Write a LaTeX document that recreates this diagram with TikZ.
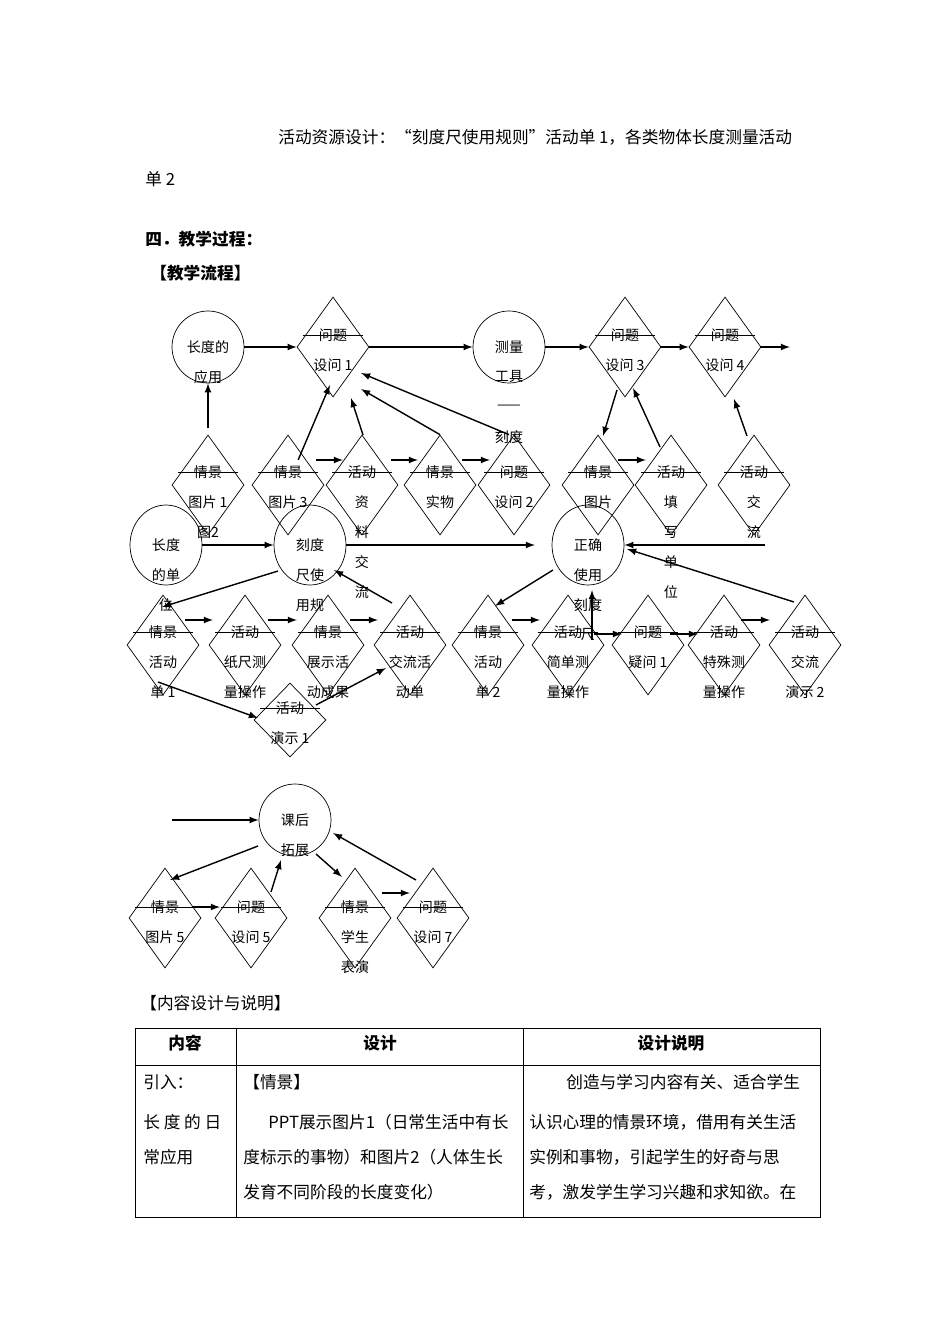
\documentclass[tikz,border=0pt]{standalone}
\usepackage{fontspec}
\setmainfont{Noto Sans CJK SC}
\usetikzlibrary{shapes.geometric}
\tikzset{
  dia/.style={draw, diamond, minimum width=1.44cm, minimum height=2cm, inner sep=0pt},
  diasmall/.style={draw, diamond, minimum width=1.44cm, minimum height=1.48cm, inner sep=0pt},
  circ/.style={draw, ellipse, minimum width=1.44cm, minimum height=1.44cm, inner sep=0pt},
  oval/.style={draw, ellipse, minimum width=1.44cm, minimum height=1.6cm, inner sep=0pt},
  txt/.style={font=\fontsize{8}{8}\selectfont, inner sep=0pt},
  body/.style={font=\fontsize{9.5}{9.5}\selectfont, inner sep=0pt, anchor=west},
  arr/.style={-latex, thick}
}
% diamond: name, x, y, line offset, spacing, lines
\newcommand\dianode[6][dia]{
  \node[#1] (#2) at (#3,#4) {};
  \draw ($(#2.center)+(-30,#5)$) -- ($(#2.center)+(30,#5)$);
  \foreach \t [count=\i] in {#6} \node[txt] at ($(#2.center)+(0,{#5+30*(\i-1)})$) {\t};
}
% circle: style, name, x, y, lines
\newcommand\circnode[5]{
  \node[#1] (#2) at (#3,#4) {};
  \foreach \t [count=\i] in {#5} \node[txt] at ($(#2.center)+(0,{30*(\i-1)})$) {\t};
}
\usetikzlibrary{calc}
\begin{document}
\begin{tikzpicture}[x=0.02cm, y=-0.02cm]
\useasboundingbox (0,0) rectangle (950,1344);
% page text
\node[body] at (278,137) {活动资源设计：“刻度尺使用规则”活动单 1，各类物体长度测量活动};
\node[body] at (145,179) {单 2};
\node[body, font=\fontsize{9.5}{9.5}\selectfont\bfseries] at (145,239) {四．教学过程：};
\node[body, font=\fontsize{9.5}{9.5}\selectfont\bfseries] at (150,273) {【教学流程】};

% row 1
\circnode{circ}{yy}{208}{347}{长度的, 应用}
\dianode{q1}{333}{347}{-12}{问题, 设问 1}
\circnode{circ}{gj}{509}{347}{测量, 工具, ——, 刻度}
\dianode{q3}{625}{347}{-12}{问题, 设问 3}
\dianode{q4}{725}{347}{-12}{问题, 设问 4}
\coordinate (e1) at (790,347);
\draw[arr] (yy) -- (q1);
\draw[arr] (q1) -- (gj);
\draw[arr] (gj) -- (q3);
\draw[arr] (q3) -- (q4);
\draw[arr] (q4) -- (e1);

% row 2
\dianode{tp1}{208}{485}{-13}{情景, 图片 1, 图2}
\dianode{tp3}{288}{485}{-13}{情景, 图片 3}
\dianode{zl}{362}{485}{-13}{活动, 资, 料, 交, 流}
\dianode{sw}{440}{485}{-13}{情景, 实物}
\dianode{q2}{514}{485}{-13}{问题, 设问 2}
\dianode{tp}{598}{485}{-13}{情景, 图片}
\dianode{tx}{671}{485}{-13}{活动, 填, 写, 单, 位}
\dianode{jl}{754}{485}{-13}{活动, 交, 流}
\draw[arr] (208,428) -- (yy);
\draw[arr] (tp3.north east) ++(-8,0) -- (330,385);
\draw[arr] (363,435) -- (351,398);
\draw[arr] (sw.north) -- (361,389);
\draw[arr] (q2.north) ++(-5,0) -- (361,373);
\draw[arr] (316,460) -- (343,460);
\draw[arr] (391,460) -- (418,460);
\draw[arr] (462,460) -- (490,460);
\draw[arr] (618,460) -- (646,460);
\draw[arr] (617,390) -- (603,436);
\draw[arr] (660,447) -- (633,388);
\draw[arr] (747,436) -- (734,399);

% row 3
\circnode{oval}{dw}{166}{545}{长度, 的单, 位}
\circnode{oval}{gz}{310}{545}{刻度, 尺使, 用规}
\circnode{oval}{zq}{588}{545}{正确, 使用, 刻度, 尺}
\coordinate (e2) at (765,545);
\draw[arr] (dw) -- (gz);
\draw[arr] (gz) -- (535,545);
\draw[arr] (e2) -- (zq);

% row 4
\dianode{hd1}{163}{645}{-13}{情景, 活动, 单 1}
\dianode{zc}{245}{645}{-13}{活动, 纸尺测, 量操作}
\dianode{zs}{328}{645}{-13}{情景, 展示活, 动成果}
\dianode{jh}{410}{645}{-13}{活动, 交流活, 动单}
\dianode{hd2}{488}{645}{-13}{情景, 活动, 单 2}
\dianode{jd}{568}{645}{-13}{活动, 简单测, 量操作}
\dianode{yw}{648}{645}{-13}{问题, 疑问 1}
\dianode{ts}{724}{645}{-13}{活动, 特殊测, 量操作}
\dianode{ys2}{805}{645}{-13}{活动, 交流, 演示 2}
\dianode[diasmall]{ys1}{290}{720}{-12}{活动, 演示 1}
\draw[arr] (278,571) -- (162,607);
\draw[arr] (185,620) -- (213,620);
\draw[arr] (268,620) -- (297,620);
\draw[arr] (350,620) -- (378,620);
\draw[arr] (392,603) -- (334,570);
\draw[arr] (158,682) -- (258,718);
\draw[arr] (316,705) -- (386,668);
\draw[arr] (553,570) -- (495,606);
\draw[arr] (512,620) -- (540,620);
\draw[arr] (594,634) -- (622,634);
\draw[arr] (670,634) -- (698,634);
\draw[arr] (741,620) -- (770,620);
\draw[arr] (592,640) -- (592,590);
\draw[arr] (794,602) -- (627,549);

% row 5
\circnode{circ}{kh}{295}{820}{课后, 拓展}
\coordinate (e3) at (172,820);
\dianode{tp5}{165}{918}{-11}{情景, 图片 5}
\dianode{q5}{251}{918}{-11}{问题, 设问 5}
\dianode{by}{355}{918}{-11}{情景, 学生, 表演}
\dianode{q7}{433}{918}{-11}{问题, 设问 7}
\draw[arr] (e3) -- (kh);
\draw[arr] (258,846) -- (170,880);
\draw[arr] (192,907) -- (220,907);
\draw[arr] (271,892) -- (281,860);
\draw[arr] (316,854) -- (342,877);
\draw[arr] (382,893) -- (410,893);
\draw[arr] (416,880) -- (333,833);

% table
\node[body] at (140,1003) {【内容设计与说明】};
\draw (135,1028) rectangle (820,1217);
\draw (135,1065) -- (820,1065);
\draw (236,1028) -- (236,1217);
\draw (523,1028) -- (523,1217);
\node[body, anchor=center, font=\fontsize{9.5}{9.5}\selectfont\bfseries] at (185,1043) {内容};
\node[body, anchor=center, font=\fontsize{9.5}{9.5}\selectfont\bfseries] at (380,1043) {设计};
\node[body, anchor=center, font=\fontsize{9.5}{9.5}\selectfont\bfseries] at (671,1043) {设计说明};
\node[body] at (143,1082) {引入：};
\node[body] at (143,1122) {长 度 的 日};
\node[body] at (143,1157) {常应用};
\node[body] at (243,1082) {【情景】};
\node[body] at (268,1122) {PPT展示图片1（日常生活中有长};
\node[body] at (243,1157) {度标示的事物）和图片2（人体生长};
\node[body] at (243,1192) {发育不同阶段的长度变化）};
\node[body] at (566,1082) {创造与学习内容有关、适合学生};
\node[body] at (529,1122) {认识心理的情景环境，借用有关生活};
\node[body] at (529,1157) {实例和事物，引起学生的好奇与思};
\node[body] at (529,1192) {考，激发学生学习兴趣和求知欲。在};
\end{tikzpicture}
\end{document}
